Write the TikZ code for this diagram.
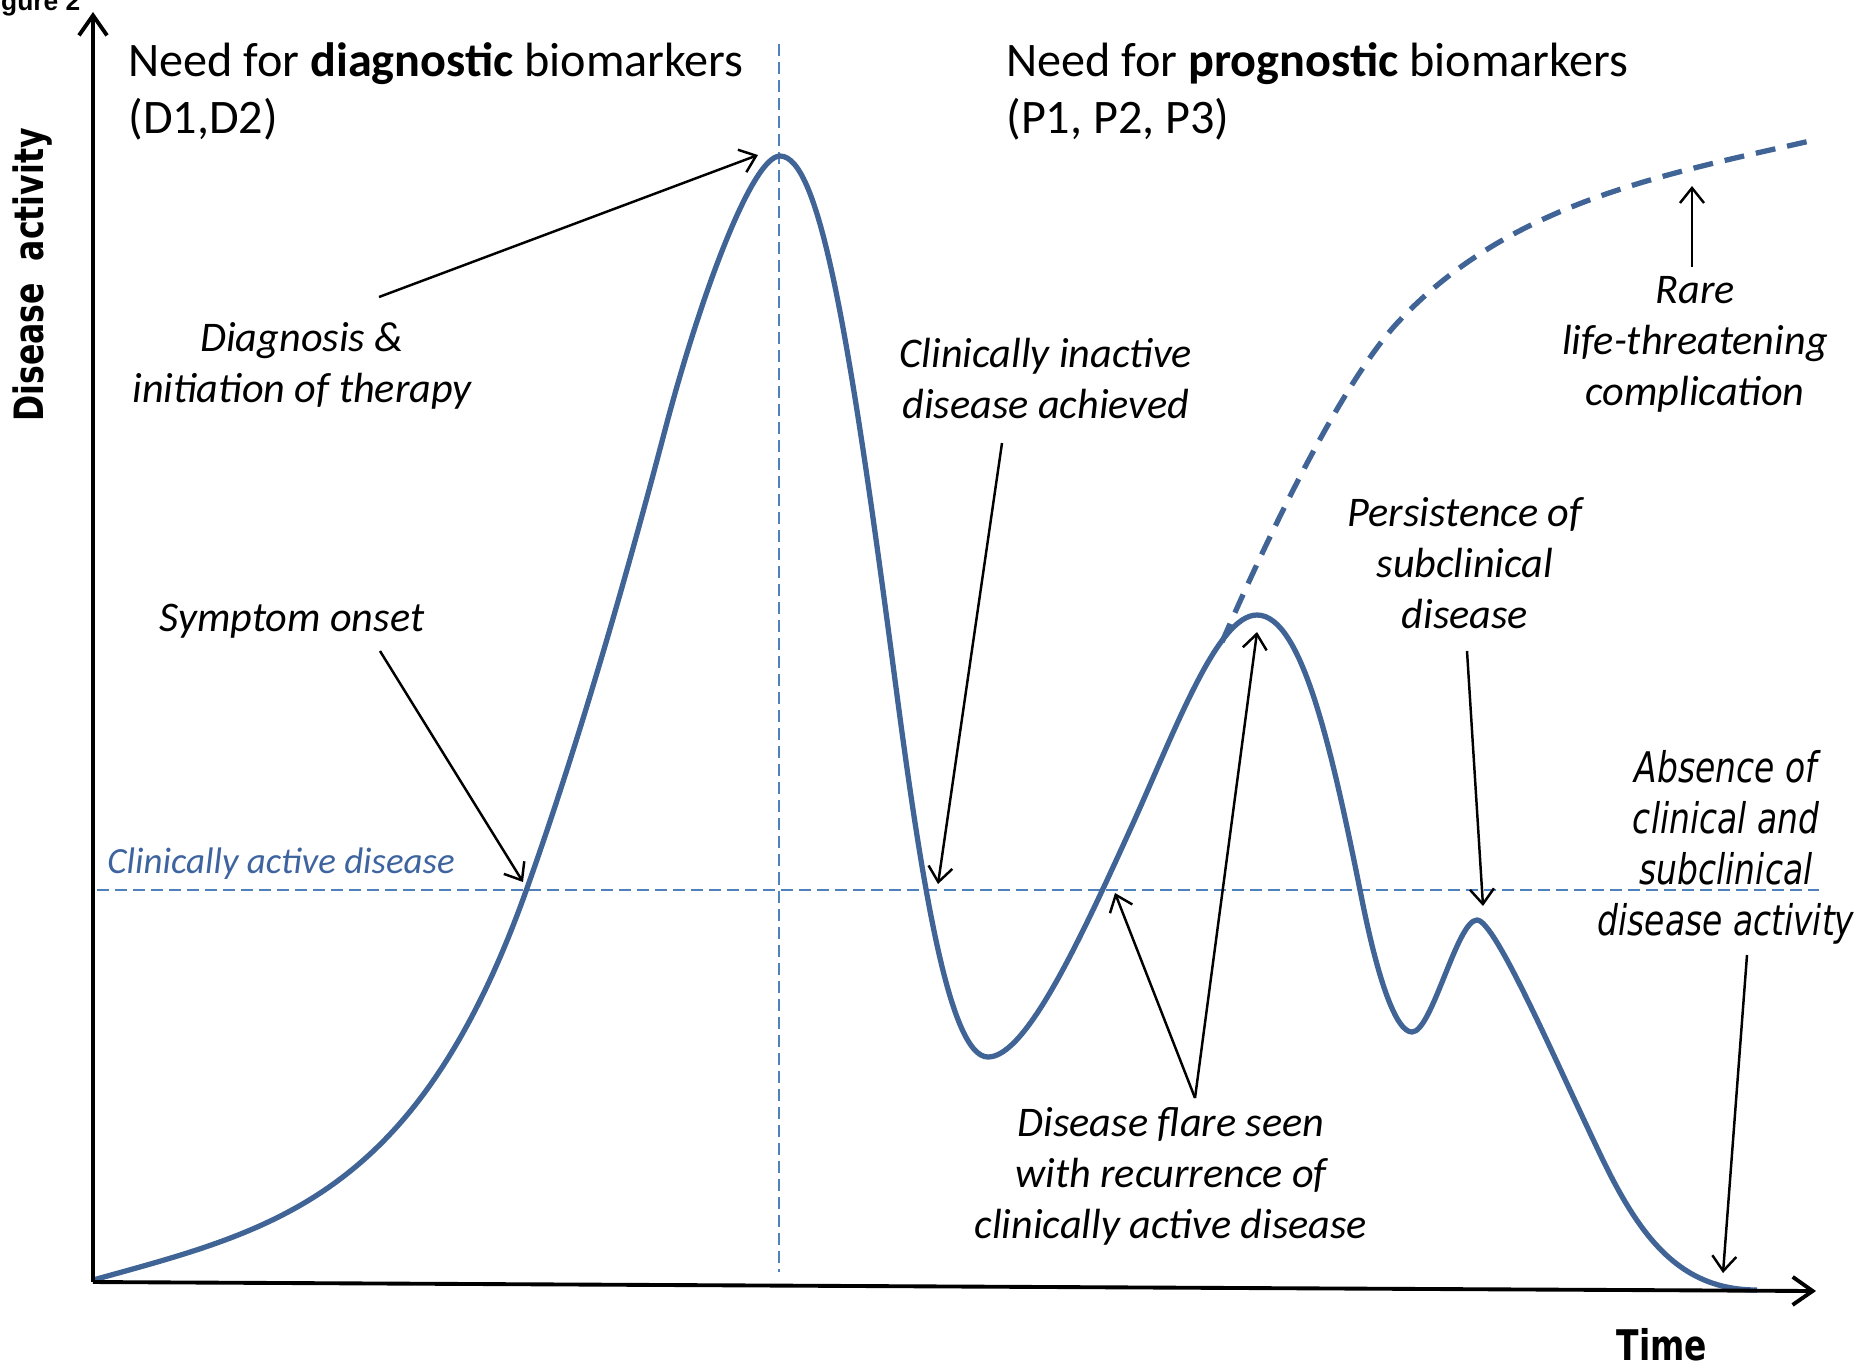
\documentclass[tikz,border=0pt]{standalone}
\usepackage{fontspec}
\setmainfont{Carlito}
\newfontfamily\squeezefont[FakeStretch=0.78]{DejaVu Sans}
\newfontfamily\arialfont{Liberation Sans}
\usetikzlibrary{arrows.meta}
\usetikzlibrary{positioning}

\definecolor{curveblue}{RGB}{64,100,150}
\definecolor{guideblue}{RGB}{79,129,189}
\definecolor{noteblue}{RGB}{62,100,160}

\begin{document}
\begin{tikzpicture}[x=0.01cm, y=-0.01cm, >={Straight Barb[length=1.5mm, width=2.4mm]},
    axisline/.style={line width=1.1pt, -{Straight Barb[length=2mm, width=2.8mm]}},
    guide/.style={guideblue, line width=0.45pt, dash pattern=on 1.2mm off 0.6mm},
    activity/.style={curveblue, line width=1.5pt},
    callout/.style={->, line width=0.7pt},
    note/.style={font=\fontsize{12}{14.5}\selectfont\itshape, align=center},
    heading/.style={font=\fontsize{13.7}{16.2}\selectfont, align=left}]
    \useasboundingbox (0,0) rectangle (1864,1369);

    % guide lines
    \draw[guide] (97,890) -- (1819,890);
    \draw[guide] (779,44) -- (779,1272);

    % disease activity curve
    \draw[activity] (93,1280)
        .. controls (273,1230) and (416,1199) .. (526,891)
        .. controls (572,762) and (619,605) .. (665,430)
        .. controls (700,297) and (752,156) .. (780,156)
        .. controls (820,156) and (850,338) .. (895,680)
        .. controls (920,870) and (948,1057) .. (988,1057)
        .. controls (1026,1057) and (1080,940) .. (1130,830)
        .. controls (1175,731) and (1217,615) .. (1257,615)
        .. controls (1302,615) and (1332,750) .. (1362,900)
        .. controls (1378,980) and (1396,1032) .. (1412,1032)
        .. controls (1432,1032) and (1457,920) .. (1477,920)
        .. controls (1495,920) and (1555,1060) .. (1600,1154)
        .. controls (1640,1238) and (1680,1290) .. (1757,1290);
    \draw[activity, dash pattern=on 2mm off 1.2mm] (1222,642)
        .. controls (1282,504) and (1350,372) .. (1400,320)
        .. controls (1510,204) and (1660,175) .. (1810,141);

    % axes
    \coordinate (origin) at (93,1282);
    \coordinate (ytop) at (93,12);
    \coordinate (xend) at (1816,1291);
    \draw[axisline] (origin) -- (ytop);
    \draw[axisline] (origin) -- (xend);
    \node[rotate=90, font=\squeezefont\fontsize{11.5}{14}\selectfont\bfseries] (ylab) at (32,275) {Disease\ \ activity};
    \node[font=\squeezefont\fontsize{12}{14}\selectfont\bfseries] (xlab) at (1662,1345) {Time};
    \node[font=\arialfont\fontsize{7.5}{9}\selectfont\bfseries, anchor=base east, inner sep=0pt] (fig) at (81,10) {gure 2};

    % headings
    \node[heading, anchor=west] (diaghead) at (116,91) {Need for \textbf{diagnostic} biomarkers\\(D1,D2)};
    \node[heading, anchor=west] (proghead) at (994,91) {Need for \textbf{prognostic} biomarkers\\(P1, P2, P3)};

    % labels
    \node[note] (diag) at (302,366) {Diagnosis \&\\initiation of therapy};
    \node[note] (onset) at (292,621) {Symptom onset};
    \node[font=\fontsize{10.5}{13}\selectfont\itshape, text=noteblue, anchor=west] (active) at (95,864) {Clinically active disease};
    \node[note] (inactive) at (1046,378) {Clinically inactive\\disease achieved};
    \node[note] (rare) at (1695,344) {Rare\\life-threatening\\complication};
    \node[note] (persist) at (1465,563) {Persistence of\\subclinical\\disease};
    \node[note] (flare) at (1171,1176) {Disease flare seen\\with recurrence of\\clinically active disease};
    \node[note, font=\squeezefont\fontsize{12}{14.5}\selectfont\itshape] (absence) at (1726,847) {Absence of\\clinical and\\subclinical\\disease activity};

    % arrow ends
    \coordinate (diagTail) at (379,297);
    \coordinate (diagHead) at (758,155);
    \coordinate (onsetTail) at (380,651);
    \coordinate (onsetHead) at (523,882);
    \coordinate (inactiveTail) at (1002,443);
    \coordinate (inactiveHead) at (938,884);
    \coordinate (rareTail) at (1692,267);
    \coordinate (rareHead) at (1692,186);
    \coordinate (persistTail) at (1467,651);
    \coordinate (persistHead) at (1483,906);
    \coordinate (flareTail) at (1195,1098);
    \coordinate (flareHeadA) at (1115,893);
    \coordinate (flareHeadB) at (1257,632);
    \coordinate (absenceTail) at (1747,955);
    \coordinate (absenceHead) at (1723,1273);

    \draw[callout] (diagTail) -- (diagHead);
    \draw[callout] (onsetTail) -- (onsetHead);
    \draw[callout] (inactiveTail) -- (inactiveHead);
    \draw[callout] (rareTail) -- (rareHead);
    \draw[callout] (persistTail) -- (persistHead);
    \draw[callout] (flareTail) -- (flareHeadA);
    \draw[callout] (flareTail) -- (flareHeadB);
    \draw[callout] (absenceTail) -- (absenceHead);
\end{tikzpicture}
\end{document}
